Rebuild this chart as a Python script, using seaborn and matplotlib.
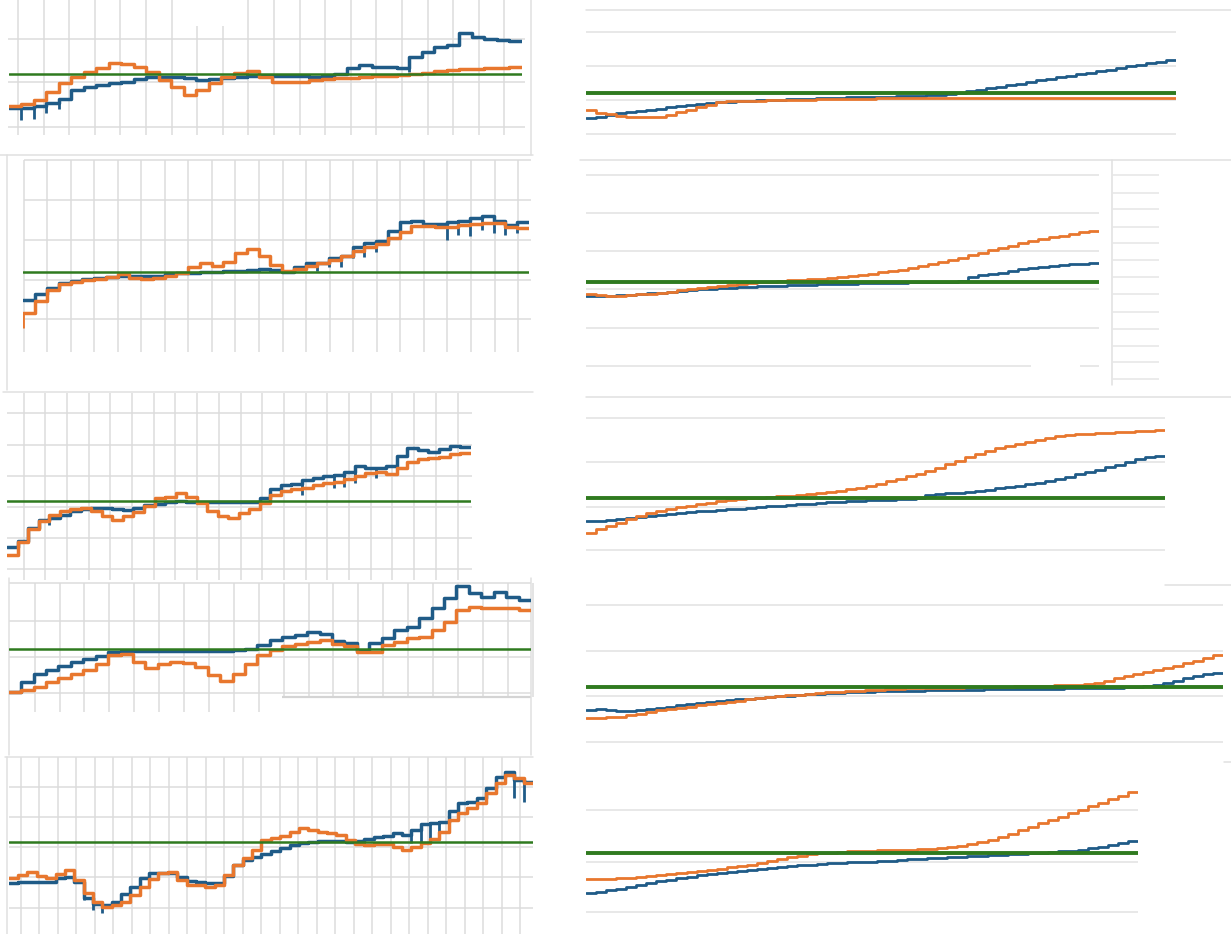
import numpy as np
import matplotlib
matplotlib.use("Agg")
import matplotlib.pyplot as plt
from matplotlib.patches import Rectangle
import seaborn as sns

sns.set_theme(style="white")
plt.rcParams["font.family"] = ["DejaVu Sans"]

W, H = 1231, 934
BLUE = "#1f5b87"
ORANGE = "#e8772e"
GREEN = "#2f7a1f"
GRID = "#dcdcdc"
GRID_LIGHT = "#e6e6e6"
FRAME = "#e0e0e0"

# ---------------- left column: stepped series, one value per period ----------------
l1_blue = [55, 55, 62, 72, 82, 110, 118, 125, 130, 135, 142, 148, 150, 148, 145, 140, 142, 147, 150, 152,
           152, 152, 152, 151, 150, 152, 158, 175, 185, 180, 178, 175, 208, 225, 240, 245, 280, 270, 262, 260, 258]
l1_orange = [62, 68, 80, 105, 130, 148, 165, 175, 192, 188, 180, 165, 140, 120, 95, 110, 132, 148, 160, 168,
             148, 135, 134, 135, 140, 143, 145, 147, 150, 152, 153, 154, 158, 162, 167, 170, 172, 173, 175, 177, 178]
l1_target = 158
l1_blue_dips = {1: 20, 2: 22, 3: 40, 4: 52, 32: 165}

l2_blue = [58, 76, 93, 108, 115, 120, 123, 128, 130, 130, 130, 131, 135, 138, 140, 142, 143, 144, 145, 148, 150,
           148, 143, 158, 170, 168, 183, 190, 216, 230, 236, 266, 293, 296, 286, 286, 293, 296, 303, 310, 296, 283, 293]
l2_orange = [20, 56, 88, 106, 112, 118, 122, 126, 136, 123, 120, 123, 130, 140, 156, 168, 160, 173, 198, 212, 190,
             163, 146, 150, 160, 168, 178, 190, 206, 218, 226, 243, 263, 280, 280, 278, 278, 283, 286, 288, 290, 276, 273]
l2_target = 143
l2_blue_dips = {25: 146, 26: 156, 27: 158, 28: 183, 29: 188, 30: 203, 36: 238, 37: 253,
                38: 250, 39: 268, 40: 260, 41: 253, 42: 258}
l2_orange_dips = {0: -27}

l3_blue = [68, 85, 123, 148, 155, 163, 175, 181, 185, 183, 181, 178, 185, 193, 197, 201, 205, 203, 201, 201, 201, 201,
           201, 201, 213, 241, 253, 255, 268, 275, 281, 283, 291, 311, 305, 305, 311, 341, 363, 358, 353, 361, 370, 368]
l3_orange = [43, 81, 121, 145, 163, 175, 181, 183, 175, 161, 148, 161, 173, 191, 213, 218, 228, 218, 198, 175, 161, 155,
             168, 181, 198, 223, 235, 241, 243, 253, 258, 263, 271, 281, 288, 291, 285, 303, 323, 331, 333, 338, 345, 348]
l3_target = 206
l3_blue_dips = {4: 133, 28: 223, 31: 245, 32: 248, 33: 258, 35: 275}

l4_blue = [5, 35, 57, 70, 83, 93, 102, 112, 123, 127, 127, 127, 127, 126, 126, 127, 127, 128, 129, 133, 145,
           160, 168, 175, 183, 177, 157, 150, 127, 150, 167, 190, 198, 227, 255, 287, 323, 300, 290, 303, 290, 280]
l4_orange = [3, 10, 20, 35, 45, 57, 70, 87, 115, 117, 93, 77, 87, 93, 90, 80, 55, 37, 57, 87, 115,
             130, 143, 148, 155, 160, 148, 142, 123, 125, 145, 155, 165, 170, 190, 215, 250, 258, 255, 257, 255, 250]
l4_target = 133

l5_blue = [75, 80, 80, 80, 80, 90, 93, 80, 30, 13, 10, 20, 43, 65, 90, 107, 107, 105, 95, 83, 78, 75, 75, 97, 130, 145,
           155, 163, 173, 180, 190, 197, 199, 201, 203, 203, 200, 203, 207, 213, 217, 225, 220, 235, 253, 255, 260, 293,
           315, 320, 330, 360, 395, 410, 385, 380]
l5_orange = [90, 100, 110, 97, 90, 103, 115, 85, 47, 20, 5, 10, 20, 40, 63, 87, 105, 110, 85, 70, 70, 65, 70, 100, 130,
             150, 175, 205, 210, 217, 230, 240, 235, 230, 227, 220, 205, 193, 190, 192, 192, 185, 175, 185, 195, 207,
             230, 265, 285, 300, 315, 345, 375, 400, 390, 375]
l5_target = 198
l5_blue_dips = {8: 25, 9: -5, 10: -15, 43: 195, 44: 200, 45: 200, 46: 205, 54: 330, 55: 320}

# ---------------- right column: cumulative daily series ----------------
r1_blue = [49, 52, 56, 62, 65, 69, 72, 76, 80, 84, 87, 91, 93, 95, 97, 99, 100, 101, 102, 103,
           104, 105, 106, 107, 108, 109, 110, 110, 111, 112, 112, 113, 114, 115, 117, 118, 120, 123, 128, 133,
           137, 142, 147, 151, 156, 161, 165, 170, 175, 179, 184, 189, 193, 198, 203, 208, 212, 217, 222]
r1_orange = [71, 64, 59, 54, 52, 50, 51, 52, 58, 65, 73, 81, 88, 95, 98, 99, 99, 100, 101, 101,
             102, 103, 103, 104, 104, 105, 105, 106, 106, 107, 107, 108, 108, 108, 108, 108, 108, 108, 108, 108,
             108, 108, 108, 108, 108, 108, 108, 108, 108, 108, 108, 108, 108, 108, 108, 108, 108, 108, 108]
r1_target = 124

r2_blue = [209, 210, 211, 213, 214, 216, 218, 220, 222, 224, 227, 230, 231, 233, 235, 237, 238, 239, 240, 241,
           242, 243, 244, 245, 245, 246, 247, 248, 248, 249, 250, 250, 251, 251, 252, 252, 253, 254, 268, 272,
           276, 280, 285, 290, 294, 298, 300, 302, 305, 307, 309]
r2_orange = [215, 213, 211, 210, 212, 215, 217, 220, 223, 227, 231, 235, 238, 241, 244, 247, 249, 251, 253, 255,
             257, 258, 260, 262, 264, 267, 270, 273, 277, 281, 285, 289, 293, 300, 306, 312, 318, 325, 332, 339,
             347, 354, 361, 368, 376, 381, 386, 391, 396, 401, 406]
r2_target = 253

r3_blue = [86, 88, 91, 94, 97, 100, 103, 106, 109, 111, 114, 116, 118, 120, 122, 124, 126, 128, 131, 133,
           135, 137, 139, 141, 143, 145, 147, 148, 149, 150, 151, 152, 154, 156, 164, 167, 170, 172, 175, 178,
           181, 185, 189, 193, 198, 202, 208, 214, 220, 227, 233, 240, 248, 256, 265, 273, 278, 281]
r3_orange = [51, 62, 72, 82, 93, 102, 110, 118, 124, 129, 133, 137, 142, 146, 150, 152, 155, 157, 159, 161,
             163, 165, 167, 170, 174, 178, 183, 187, 192, 199, 206, 213, 221, 229, 237, 247, 257, 267, 278, 288,
             298, 307, 312, 317, 324, 330, 336, 341, 344, 347, 349, 350, 352, 353, 354, 356, 358, 361]
r3_target = 157

r4_blue = [96, 98, 96, 92, 93, 95, 98, 101, 105, 109, 113, 117, 120, 122, 124, 127, 129, 131, 134, 136,
           138, 140, 142, 144, 145, 146, 148, 149, 150, 151, 151, 152, 153, 153, 154, 154, 155, 155, 156, 156,
           157, 157, 157, 158, 158, 158, 159, 159, 160, 160, 160, 161, 161, 162, 163, 165, 167, 171, 177, 183,
           190, 197, 203, 207]
r4_orange = [70, 72, 73, 75, 79, 84, 89, 94, 98, 101, 105, 109, 112, 116, 120, 123, 127, 130, 133, 136,
             139, 141, 143, 146, 148, 150, 151, 153, 155, 156, 157, 159, 160, 160, 161, 161, 162, 162, 163, 163,
             164, 164, 165, 166, 167, 168, 168, 169, 169, 170, 172, 175, 182, 190, 196, 202, 208, 214, 221, 228,
             235, 242, 250, 259]
r4_target = 165

r5_blue = [57, 60, 64, 68, 74, 80, 86, 91, 96, 101, 105, 110, 113, 116, 119, 122, 125, 127, 130, 133,
           136, 139, 141, 143, 145, 146, 148, 149, 150, 152, 153, 155, 157, 158, 160, 162, 163, 165, 166, 168,
           169, 170, 172, 173, 175, 177, 179, 181, 183, 186, 190, 195, 200, 205, 211]
r5_orange = [97, 98, 99, 100, 102, 104, 107, 110, 113, 116, 119, 122, 125, 129, 133, 137, 141, 146, 152, 159,
             164, 168, 172, 176, 177, 179, 181, 182, 183, 184, 184, 185, 186, 187, 189, 191, 194, 197, 202, 208,
             215, 224, 234, 245, 255, 265, 275, 285, 296, 305, 316, 327, 337, 347, 358]
r5_target = 177

# ---------------- panel placement (pixels) ----------------
# x0/x1: horizontal span of the series, ref: pixel row of value 0
LEFT = [
    dict(x0=8.6, x1=522, top=0, bottom=155, ref=126.7,
         vgrid=(18, 25.6, 20, 0, 135), hgrid=([39.3, 81.7, 126.7], 8, 525)),
    dict(x0=23.5, x1=529, top=155, bottom=390, ref=319.3,
         vgrid=(23.5, 23.55, 22, 160, 352), hgrid=([160, 200, 240, 280, 319.3], 23.5, 531)),
    dict(x0=7, x1=470.6, top=393, bottom=580, ref=569.3,
         vgrid=(23.5, 21.7, 21, 393, 580), hgrid=([413.3, 445, 475.7, 506.7, 538.3, 569.3], 7, 472)),
    dict(x0=8.7, x1=531, top=578, bottom=755, ref=693.3,
         vgrid=(34.6, 24.9, 21, 583, 712), hgrid=([583.3, 621, 656.7, 693.3], 8.7, 531)),
    dict(x0=8.7, x1=533, top=757, bottom=934, ref=908.3,
         vgrid=(20.8, 18.5, 28, 757, 934), hgrid=([786.7, 816.7, 846.7, 877.3, 908.3], 8.7, 533)),
]
RIGHT = [
    dict(x0=586.2, x1=1175.5, top=0, bottom=160, ref=134,
         hgrid=([31.7, 66, 100, 134], 586, 1176)),
    dict(x0=586.2, x1=1098.8, top=160, bottom=390, ref=366,
         hgrid=([175, 213.3, 250.7, 289.3, 328.3], 586, 1099)),
    dict(x0=586.2, x1=1165, top=397, bottom=575, ref=550,
         hgrid=([417.7, 462.3, 506.7, 550], 586, 1165)),
    dict(x0=586.2, x1=1223, top=578, bottom=755, ref=741.7,
         hgrid=([605, 651, 695.7, 741.7], 586, 1223)),
    dict(x0=586.2, x1=1138, top=755, bottom=934, ref=911.7,
         hgrid=([810, 861.7, 911.7], 586, 1138)),
]
SCALE = 3.0  # value units per pixel

FRAMES = [
    ((531, 0), (531, 155)), ((0, 155), (533, 155)), ((7, 155), (7, 390)),
    ((3, 392), (533, 392)), ((8.7, 578), (8.7, 755)), ((531, 578), (531, 755)),
    ((5, 756.7), (533, 756.7)), ((7, 757), (7, 934)),
    ((586, 10), (1231, 10)), ((580, 159.5), (1231, 159.5)), ((1112, 160), (1112, 385)),
    ((586, 396.7), (1231, 396.7)), ((1165, 585), (1231, 585)),
    ((1224, 762), (1231, 762)),
]
BROKEN_RULES = [(366, 586, 1031), (366, 1080, 1099)]
SIDE_TICKS = ([175, 192.7, 209.3, 226.7, 243.3, 260, 277.3, 294.3, 311.7, 329, 346, 362.3, 379.3], 1112, 1159)

fig = plt.figure(figsize=(W / 100, H / 100), dpi=100)
fig.patch.set_facecolor("white")

# background layer in pixel coordinates for grids and frames
bg = fig.add_axes([0, 0, 1, 1])
bg.set_xlim(0, W)
bg.set_ylim(H, 0)
bg.set_axis_off()

for i, lay in enumerate(LEFT):
    first, step, count, ya, yb = lay["vgrid"]
    xs = first + step * np.arange(count)
    if i == 3:
        bg.vlines(xs[xs < 270], ya, yb, color=GRID, lw=1.1, zorder=0)
        bg.vlines(xs[xs >= 270], ya, 697, color=GRID, lw=1.1, zorder=0)
        bg.hlines(697, 282, 531, color="#d4d4d4", lw=1.6, zorder=0)
    else:
        bg.vlines(xs, ya, yb, color=GRID, lw=1.1, zorder=0)
    ys, xa, xb = lay["hgrid"]
    bg.hlines(ys, xa, xb, color=GRID, lw=1.1, zorder=0)

# blank strip where the top grid of the first panel is interrupted
bg.add_patch(Rectangle((186, 0), 54, 26, facecolor="white", edgecolor="none", zorder=0.5))

for lay in RIGHT:
    ys, xa, xb = lay["hgrid"]
    bg.hlines(ys, xa, xb, color=GRID_LIGHT, lw=1.3, zorder=0)
for y, xa, xb in BROKEN_RULES:
    bg.hlines(y, xa, xb, color=GRID_LIGHT, lw=1.3, zorder=0)

for (xa, ya), (xb, yb) in FRAMES:
    bg.plot([xa, xb], [ya, yb], color=FRAME, lw=1.1, zorder=0)
bg.hlines(SIDE_TICKS[0], SIDE_TICKS[1], SIDE_TICKS[2], color=GRID_LIGHT, lw=1.1, zorder=0)


def data_axes(lay):
    ax = fig.add_axes([lay["x0"] / W, 1 - lay["bottom"] / H,
                       (lay["x1"] - lay["x0"]) / W, (lay["bottom"] - lay["top"]) / H])
    ax.set_axis_off()
    ax.patch.set_alpha(0)
    ax.set_ylim((lay["ref"] - lay["bottom"]) * SCALE, (lay["ref"] - lay["top"]) * SCALE)
    return ax


def add_dips(ax, vals, dips, color, lw):
    for k, d in dips.items():
        level = vals[k]
        prev = vals[k - 1] if k > 0 else level
        lo, hi = min(level, prev), max(level, prev)
        anchor = lo if d < lo else hi
        ax.vlines(k, d, anchor, color=color, lw=lw, zorder=2)


def step_panel(lay, blue, orange, target, lw, target_lw, blue_dips=None, orange_dips=None):
    ax = data_axes(lay)
    n = len(blue)
    x = np.arange(n + 1)
    sns.lineplot(x=x, y=np.append(blue, blue[-1]), ax=ax, color=BLUE, lw=lw,
                 drawstyle="steps-post", zorder=2)
    sns.lineplot(x=x, y=np.append(orange, orange[-1]), ax=ax, color=ORANGE, lw=lw,
                 drawstyle="steps-post", zorder=2.5)
    if blue_dips:
        add_dips(ax, blue, blue_dips, BLUE, lw * 0.8)
    if orange_dips:
        add_dips(ax, orange, orange_dips, ORANGE, lw * 0.8)
    ax.axhline(target, color=GREEN, lw=target_lw, zorder=3)
    ax.set_xlim(0, n)


step_panel(LEFT[0], l1_blue, l1_orange, l1_target, 2.5, 1.8, l1_blue_dips)
step_panel(LEFT[1], l2_blue, l2_orange, l2_target, 2.5, 1.8, l2_blue_dips, l2_orange_dips)
step_panel(LEFT[2], l3_blue, l3_orange, l3_target, 2.5, 1.8, l3_blue_dips)
step_panel(LEFT[3], l4_blue, l4_orange, l4_target, 2.5, 1.8)
step_panel(LEFT[4], l5_blue, l5_orange, l5_target, 2.5, 1.8, l5_blue_dips)

step_panel(RIGHT[0], r1_blue, r1_orange, r1_target, 2.0, 2.8)
step_panel(RIGHT[1], r2_blue, r2_orange, r2_target, 2.0, 2.8)
step_panel(RIGHT[2], r3_blue, r3_orange, r3_target, 2.0, 2.8)
step_panel(RIGHT[3], r4_blue, r4_orange, r4_target, 2.0, 2.8)
step_panel(RIGHT[4], r5_blue, r5_orange, r5_target, 2.0, 2.8)

fig.savefig("out.png", dpi=100, facecolor="white")
